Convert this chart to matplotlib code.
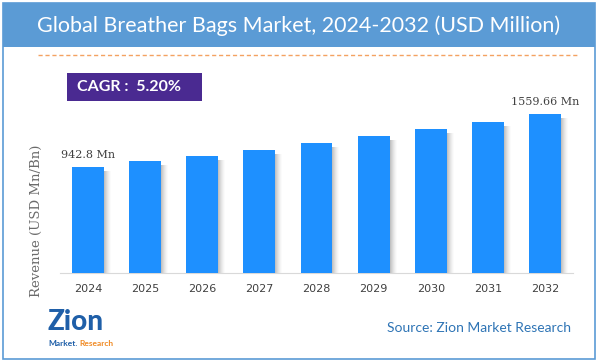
import matplotlib
matplotlib.use('Agg')
import matplotlib.pyplot as plt
from matplotlib.patches import Rectangle
import numpy as np

years = ['2024', '2025', '2026', '2027', '2028', '2029', '2030', '2031', '2032']
revenue = [942.8, 996, 1041, 1097, 1157, 1222, 1284, 1347, 1418]
first_label = '942.8 Mn'
last_label = '1559.66 Mn'
title = 'Global Breather Bags Market, 2024-2032 (USD Million)'
cagr_text = 'CAGR :  5.20%'
source_text = 'Source: Zion Market Research'

W, H = 599, 363
fig = plt.figure(figsize=(W / 100, H / 100), dpi=100)

def fx(px):
    return px / W

def fy(py):
    return 1 - py / H

# outer frame and title band
fig.patches.append(Rectangle((fx(3), fy(359)), fx(592), (356) / H, transform=fig.transFigure,
                             facecolor='none', edgecolor='#5B9BD5', linewidth=1.2))
fig.patches.append(Rectangle((fx(3), fy(47)), fx(592), 44 / H, transform=fig.transFigure,
                             facecolor='#5B9BD5', edgecolor='none'))
fig.text(fx(299), fy(26), title, color='white', fontsize=15.5, family='Lato',
         ha='center', va='center')

# dashed orange separator
fig.lines.append(plt.Line2D([fx(38), fx(579)], [fy(55), fy(55)], transform=fig.transFigure,
                            color='#F4A261', linestyle=(0, (3, 2)), linewidth=1))

# CAGR box
fig.patches.append(Rectangle((fx(67), fy(101)), fx(135), 28 / H, transform=fig.transFigure,
                             facecolor='#4A2A91', edgecolor='none'))
fig.text(fx(129), fy(87), cagr_text, color='white', fontsize=11.5, family='Lato',
         fontweight='bold', ha='center', va='center')

# main axes
ax = fig.add_axes([fx(60), fy(273), fx(513), (273 - 100) / H])
x = np.arange(len(years))
bw = 0.56
px = 1 / 57.1
ypx = 1543 / 173

# soft shadow right of bars
for k in range(7):
    ax.bar(x + bw / 2 + (k + 0.5) * px, np.array(revenue) - 4 * ypx, width=px,
           bottom=0, color='#666666', alpha=0.4 * (1 - k / 7) ** 1.5, linewidth=0)
ax.bar(x, revenue, width=bw, color='#1E90FF', linewidth=0, zorder=3)

ax.text(x[0], revenue[0] + 7 * ypx, first_label, ha='center', va='bottom',
        fontsize=8, family='DejaVu Serif', color='#404040')
ax.text(x[-1], revenue[-1] + 7 * ypx, last_label, ha='center', va='bottom',
        fontsize=8, family='DejaVu Serif', color='#404040')

ax.set_xlim(-0.49, 8.49)
ax.set_ylim(0, 1543)
ax.set_xticks(x)
ax.set_xticklabels(years, fontsize=8, color='#404040')
ax.tick_params(axis='x', length=0, pad=8)
ax.set_yticks([])
for s in ['top', 'right', 'left']:
    ax.spines[s].set_visible(False)
ax.spines['bottom'].set_color('#D9D9D9')
ax.patch.set_alpha(0)

fig.text(fx(36), fy(221), 'Revenue (USD Mn/Bn)', rotation=90, ha='center', va='center',
         fontsize=9.5, family='DejaVu Serif', color='#6B6B6B')

# logo
fig.text(fx(47), fy(322), 'Zion', color='#1F5FA8', fontsize=20, family='Lato',
         fontweight='black', ha='left', va='center')
fig.text(fx(48), fy(343), 'Market.', color='#1F5FA8', fontsize=6, family='Lato',
         fontweight='bold', ha='left', va='center')
fig.text(fx(79), fy(343), 'Research', color='#F08A24', fontsize=6, family='Lato',
         fontweight='bold', ha='left', va='center')

fig.text(fx(571), fy(328), source_text, color='#2E74B5', fontsize=10, family='Lato',
         ha='right', va='center')

fig.savefig('out.png', dpi=100)
